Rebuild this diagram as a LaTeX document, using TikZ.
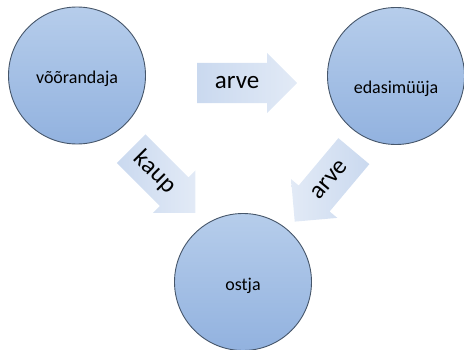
\documentclass[tikz,border=0pt]{standalone}
\usepackage{fontspec}
\setmainfont{Carlito}
\usetikzlibrary{shapes.arrows, calc}
\definecolor{discTop}{HTML}{B6CDEB}
\definecolor{discBot}{HTML}{92B2DF}
\definecolor{discLine}{HTML}{46566A}
\definecolor{flowTail}{HTML}{CAD9EF}
\definecolor{flowHead}{HTML}{E2EAF6}

\begin{document}
\begin{tikzpicture}[x=1pt, y=1pt,
    party/.style={circle, draw=discLine, line width=0.9pt, top color=discTop, bottom color=discBot, minimum size=137pt, inner sep=0pt, text height=20pt, text depth=4pt, font=\fontsize{18}{20}\selectfont},
    flow/.style={single arrow, single arrow head extend=10pt, inner xsep=0pt, inner ysep=20pt, draw=none, left color=flowTail, right color=flowHead, anchor=tail},
    flowtext/.style={font=\fontsize{25}{28}\selectfont, inner sep=0pt}
    ]
\useasboundingbox (0,0) rectangle (464,349);
\node[party] (seller) at (77,273.5) {võõrandaja};
\node[party, text height=40pt] (agent) at (396,273) {edasimüüja};
\node[party] (buyer) at (243,67) {ostja};

\node[flow, minimum height=100pt] (a1) at (197,266) {};
\node[flow, minimum height=91pt, rotate=-45] (a2) at (131,200.5) {};
\node[flow, minimum height=92pt, rotate=50, shape border rotate=180, left color=flowHead, right color=flowTail] (a3) at (354,198) {};

\node[flowtext] (t1) at ($(a1.tail)!0.4!(a1.tip)$) {arve};
\node[flowtext, rotate=-45] (t2) at ($(a2.tail)!0.37!(a2.tip)$) {kaup};
\node[flowtext, rotate=50] (t3) at ($(a3.tail)!0.41!(a3.tip)$) {arve};
\end{tikzpicture}
\end{document}
